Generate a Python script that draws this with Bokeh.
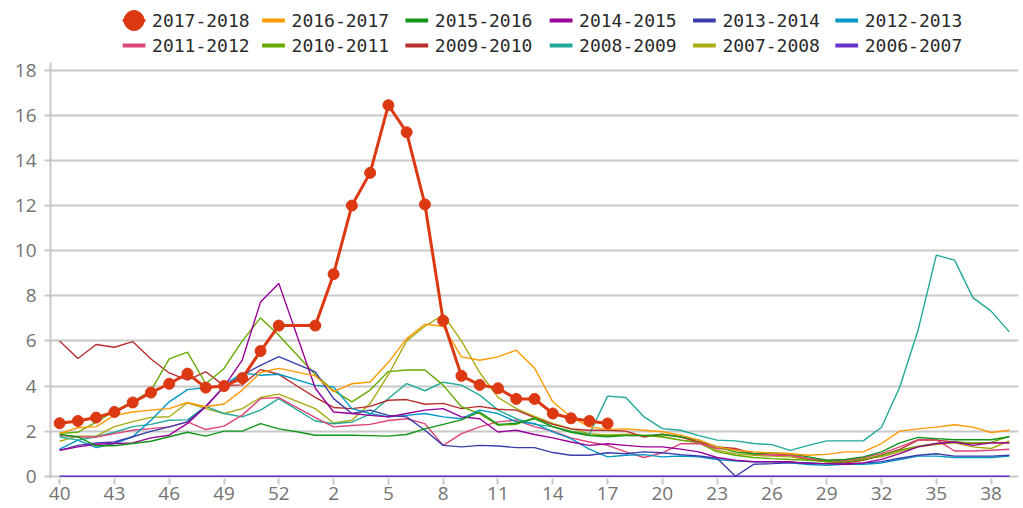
from bokeh.plotting import figure
from bokeh.models import Range1d, FixedTicker, ColumnDataSource
from bokeh.layouts import column
from bokeh.core.properties import value
from bokeh.embed import file_html
from bokeh.resources import INLINE

N = None
weeks = list(range(40, 54)) + list(range(1, 40))

s2017_2018 = [2.35, 2.45, 2.6, 2.85, 3.27, 3.71, 4.1, 4.55, 3.93, 4.0, 4.35, 5.55, 6.68, N,
              6.68, 8.96, 12.0, 13.45, 16.45, 15.25, 12.05, 6.9, 4.45, 4.05, 3.9, 3.43, 3.43, 2.78, 2.57, 2.45, 2.34] + [N] * 22
s2016_2017 = [1.9, 2.15, 2.2, 2.7, 2.85, 2.93, 3.0, 3.27, 3.08, 3.2, 3.82, 4.6, 4.78, N,
              4.45, 3.75, 4.1, 4.18, 5.05, 6.1, 6.74, 6.65, 5.29, 5.14, 5.29, 5.59, 4.8, 3.3, 2.63, 2.19,
              2.08, 2.1, 2.04, 1.97, 1.82, 1.6, 1.3, 1.15, 1.08, 1.03, 1.0, 0.93, 0.97, 1.08, 1.08, 1.45,
              2.0, 2.1, 2.18, 2.28, 2.18, 1.94, 2.04]
s2015_2016 = [1.85, 1.75, 1.35, 1.35, 1.45, 1.55, 1.75, 1.95, 1.78, 2.0, 2.0, 2.33, 2.1, 1.97,
              1.82, 1.82, 1.82, 1.8, 1.78, 1.85, 2.1, 2.3, 2.5, 2.85, 2.3, 2.35, 2.55, 2.2, 1.95, 1.8,
              1.75, 1.8, 1.8, 1.85, 1.75, 1.6, 1.3, 1.08, 1.0, 1.03, 1.0, 0.86, 0.71, 0.74, 0.86, 1.08,
              1.48, 1.72, 1.67, 1.62, 1.62, 1.62, 1.75]
s2014_2015 = [1.15, 1.3, 1.42, 1.45, 1.48, 1.7, 1.82, 2.34, 3.08, 3.97, 5.15, 7.73, 8.55, N,
              3.9, 2.85, 2.78, 2.7, 2.63, 2.78, 2.93, 3.0, 2.63, 2.55, 1.96, 2.04, 1.85, 1.7, 1.52, 1.37,
              1.44, 1.37, 1.3, 1.3, 1.2, 1.08, 0.83, 0.71, 0.64, 0.64, 0.64, 0.56, 0.56, 0.53, 0.59, 0.75,
              1.0, 1.3, 1.45, 1.52, 1.37, 1.48, 1.48]
s2013_2014 = [1.15, 1.37, 1.48, 1.52, 1.75, 1.99, 2.19, 2.41, 3.1, 3.97, 4.48, 4.92, 5.3, N,
              4.63, 3.44, 2.78, 2.93, 2.7, 2.63, 2.04, 1.37, 1.3, 1.37, 1.34, 1.27, 1.27, 1.05, 0.93, 0.93,
              1.04, 1.0, 1.08, 1.04, 0.96, 0.9, 0.8, 0.0, 0.53, 0.56, 0.6, 0.6, 0.55, 0.55, 0.58, 0.65,
              0.8, 0.93, 1.0, 0.89, 0.89, 0.89, 0.93]
s2012_2013 = [1.2, 1.6, 1.27, 1.45, 1.75, 2.48, 3.3, 3.84, 3.93, 4.03, 4.58, 4.48, 4.52, N,
              4.03, 3.96, 3.0, 2.78, 2.63, 2.7, 2.78, 2.63, 2.55, 2.93, 2.78, 2.41, 2.34, 1.97, 1.67, 1.2,
              0.86, 0.93, 0.96, 0.86, 0.9, 0.86, 0.74, 0.67, 0.64, 0.64, 0.6, 0.52, 0.49, 0.53, 0.53, 0.59,
              0.74, 0.89, 0.89, 0.83, 0.83, 0.83, 0.9]
s2011_2012 = [1.81, 1.74, 1.74, 1.89, 2.04, 2.11, 2.19, 2.41, 2.07, 2.22, 2.71, 3.44, 3.49, N,
              2.6, 2.19, 2.25, 2.3, 2.47, 2.55, 2.33, 1.37, 1.89, 2.19, 2.41, 2.48, 2.2, 2.0, 1.7, 1.52,
              1.37, 1.08, 0.83, 1.04, 1.44, 1.45, 1.23, 1.19, 1.0, 0.93, 0.93, 0.78, 0.71, 0.68, 0.83, 1.0,
              1.3, 1.62, 1.62, 1.12, 1.12, 1.15, 1.2]
s2010_2011 = [1.9, 1.95, 2.4, 2.9, 3.3, 3.8, 5.2, 5.5, 4.1, 4.78, 6.0, 7.02, 6.25, N,
              4.5, 3.8, 3.3, 3.82, 4.64, 4.71, 4.71, 4.04, 3.08, 2.78, 2.26, 2.3, 2.6, 2.19, 1.97, 1.82,
              1.82, 1.82, 1.8, 1.74, 1.6, 1.48, 1.08, 0.93, 0.83, 0.78, 0.74, 0.71, 0.64, 0.64, 0.74, 0.93,
              1.15, 1.33, 1.45, 1.52, 1.48, 1.5, 1.77]
s2009_2010 = [6.0, 5.22, 5.84, 5.72, 5.97, 5.2, 4.58, 4.26, 4.63, 4.02, 4.05, 4.73, 4.52, 4.0,
              3.5, 3.05, 3.0, 3.1, 3.37, 3.4, 3.19, 3.23, 3.0, 3.1, 2.97, 2.93, 2.6, 2.3, 2.1, 2.04,
              2.04, 2.0, 1.74, 1.86, 1.74, 1.52, 1.3, 1.23, 1.0, 1.0, 0.93, 0.78, 0.64, 0.59, 0.71, 0.93,
              1.19, 1.6, 1.6, 1.52, 1.45, 1.48, 1.48]
s2008_2009 = [1.75, 1.6, 1.75, 1.95, 2.2, 2.3, 2.48, 2.5, 3.1, 2.78, 2.63, 2.93, 3.44, N,
              2.45, 2.33, 2.4, 2.75, 3.45, 4.11, 3.79, 4.17, 4.04, 3.6, 2.93, 2.55, 2.3, 2.2, 2.0, 1.85,
              3.55, 3.49, 2.63, 2.11, 2.04, 1.8, 1.6, 1.57, 1.45, 1.4, 1.15, 1.37, 1.57, 1.57, 1.57, 2.17,
              3.96, 6.47, 9.8, 9.58, 7.92, 7.32, 6.4]
s2007_2008 = [1.55, 1.78, 1.78, 2.2, 2.42, 2.61, 2.64, 3.26, 3.0, 2.78, 3.0, 3.49, 3.64, N,
              3.0, 2.36, 2.48, 3.22, 4.5, 6.0, 6.65, 7.15, 6.0, 4.6, 3.5, 3.0, 2.65, 2.34, 2.11, 1.89,
              1.82, 1.86, 1.82, 1.77, 1.6, 1.52, 1.15, 1.0, 0.93, 0.89, 0.86, 0.74, 0.68, 0.71, 0.78, 0.86,
              1.08, 1.3, 1.4, 1.48, 1.3, 1.23, 1.57]
s2006_2007 = [0.0] * 53

names = ["2017-2018", "2016-2017", "2015-2016", "2014-2015", "2013-2014", "2012-2013",
         "2011-2012", "2010-2011", "2009-2010", "2008-2009", "2007-2008", "2006-2007"]
series = [s2017_2018, s2016_2017, s2015_2016, s2014_2015, s2013_2014, s2012_2013,
          s2011_2012, s2010_2011, s2009_2010, s2008_2009, s2007_2008, s2006_2007]
colors = ["#dc3912", "#ff9900", "#109618", "#990099", "#3b3eac", "#0099c6",
          "#dd4477", "#66aa00", "#b82e2e", "#22aa99", "#aaaa11", "#6633cc"]

y_ticks = list(range(0, 19, 2))
x_tick_idx = list(range(0, len(weeks), 3))

GRID = "#c8c8c8"
LABEL = "#737373"
TICK_FONT = "Open Sans"
LEG_FONT = "DejaVu Sans Mono"

# ---------- legend strip ----------
LEG_W, LEG_H = 1020, 56
leg = figure(width=LEG_W, height=LEG_H, x_range=Range1d(0, LEG_W), y_range=Range1d(LEG_H, 0),
             x_axis_type=None, y_axis_type=None, output_backend="svg",
             toolbar_location=None, min_border=0)
leg.outline_line_color = None
col_text = [107, 254, 405, 557, 708, 858]
row_y = [20, 45]
for i, (nm, c) in enumerate(zip(names, colors)):
    r, cidx = divmod(i, 6)
    tx = col_text[cidx]
    cy = row_y[r]
    gx = tx - 19
    lw = 3 if i == 0 else 4
    leg.segment(x0=[gx - 12], y0=[cy], x1=[gx + 12], y1=[cy], line_color=c, line_width=lw)
    if i == 0:
        leg.scatter(x=[gx], y=[cy], size=20, fill_color=c, line_color=c)
    leg.text(x=[tx], y=[cy], text=[nm], text_font=value(LEG_FONT), text_font_size="18px",
             text_color="#2a2a2a", text_baseline="middle", text_align="left")

# ---------- main chart ----------
p = figure(frame_width=968, frame_height=416, min_border_left=50, min_border_right=2,
           min_border_top=6, min_border_bottom=28,
           x_range=Range1d(-0.5, len(weeks) - 0.5), y_range=Range1d(-0.1, 18.343),
           output_backend="svg", toolbar_location=None)
p.outline_line_color = None
p.xgrid.grid_line_color = None
p.ygrid.grid_line_color = GRID
p.ygrid.grid_line_width = 2
p.ygrid.ticker = FixedTicker(ticks=y_ticks)

p.yaxis.ticker = FixedTicker(ticks=y_ticks)
p.yaxis.axis_line_color = GRID
p.yaxis.axis_line_width = 2
p.yaxis.major_tick_line_color = GRID
p.yaxis.major_tick_line_width = 2
p.yaxis.major_tick_in = 0
p.yaxis.major_tick_out = 6
p.yaxis.minor_tick_line_color = None
p.yaxis.major_label_standoff = 8

p.xaxis.ticker = FixedTicker(ticks=x_tick_idx)
p.xaxis.major_label_overrides = {i: str(weeks[i]) for i in x_tick_idx}
p.xaxis.axis_line_color = None
p.xaxis.major_tick_line_color = GRID
p.xaxis.major_tick_line_width = 2
p.xaxis.major_tick_in = 0
p.xaxis.major_tick_out = 6
p.xaxis.minor_tick_line_color = None
p.xaxis.major_label_standoff = 2

for ax in (p.xaxis, p.yaxis):
    ax.major_label_text_font = TICK_FONT
    ax.major_label_text_font_size = "19px"
    ax.major_label_text_color = LABEL

xs = list(range(len(weeks)))
order = list(range(len(series) - 1, 0, -1)) + [0]
for i in order:
    vals = series[i]
    px = [x for x, v in zip(xs, vals) if v is not None]
    py = [v for v in vals if v is not None]
    src = ColumnDataSource(dict(x=px, y=py))
    if i == 0:
        p.line("x", "y", source=src, line_color=colors[i], line_width=3)
        p.scatter("x", "y", source=src, size=11, fill_color=colors[i], line_color=colors[i])
    else:
        p.line("x", "y", source=src, line_color=colors[i], line_width=1.4)

layout = column(leg, p, spacing=0)
open("out.html", "w").write(file_html(layout, INLINE))
